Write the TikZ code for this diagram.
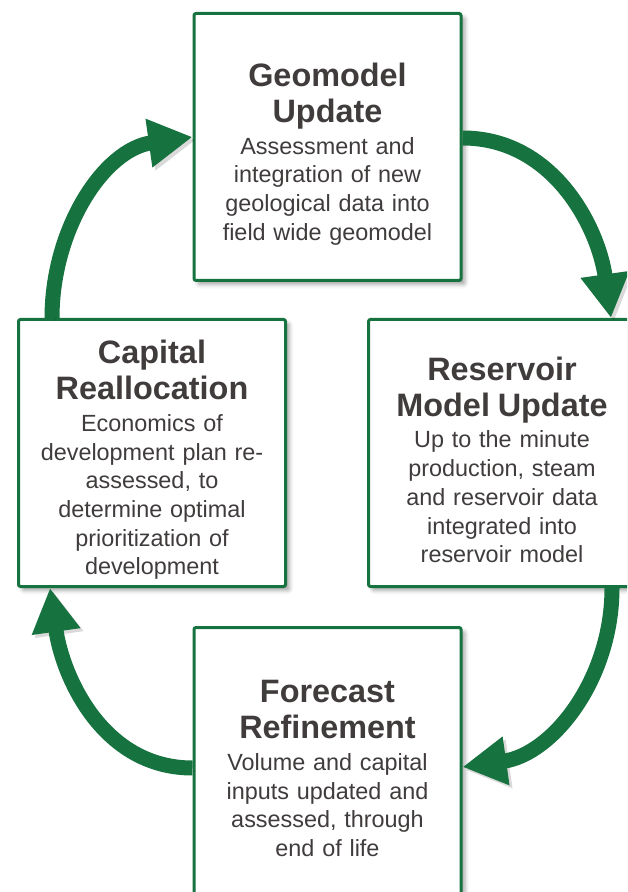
\documentclass[tikz,border=0pt]{standalone}
\usepackage{fontspec}
\setmainfont{Liberation Sans}
\usetikzlibrary{arrows.meta,calc,shadows.blur}
\definecolor{cyclegreen}{RGB}{22,114,62}
\definecolor{textgray}{RGB}{64,60,60}
\newcommand{\stagetitle}[1]{\par\vspace*{0.75pt}{\fontsize{16.2}{18}\selectfont\bfseries #1\par}\vspace{1.4pt}}
\tikzset{
  stage/.style={draw=cyclegreen,line width=1.5pt,fill=white,rounded corners=1pt,
    minimum width=133.5pt,minimum height=133.5pt,inner sep=0pt,
    text width=130pt,align=center,text=textgray,font=\fontsize{11.7}{14.35}\selectfont,
    blur shadow={shadow xshift=2pt,shadow yshift=-2pt,shadow blur radius=2pt,shadow opacity=35}},
  cycle arrow/.style={line width=7.5pt,draw=cyclegreen,-{Triangle[length=22pt,width=23pt]},
    preaction={draw=black,opacity=0.15,transform canvas={shift={(1.5pt,-1.5pt)}}}}
}
\begin{document}
\begin{tikzpicture}[x=0.5pt,y=0.5pt]
    \useasboundingbox (0,0) rectangle (627,-892);
    \clip (0,0) rectangle (627,-892);
    % the four stages of the cycle
    \node[stage] (geo) at (327.5,-147) {\stagetitle{Geomodel\\Update}Assessment and\\integration of new\\geological data into\\field wide geomodel};
    \node[stage] (res) at (502,-453) {\stagetitle{Reservoir\\Model Update}Up to the minute\\production, steam\\and reservoir data\\integrated into\\reservoir model};
    \node[stage] (cap) at (152,-453) {\stagetitle{Capital\\Reallocation}Economics of\\development plan re-\\assessed, to\\determine optimal\\prioritization of\\development};
    \node[stage] (fore) at (327.5,-761) {\stagetitle{Forecast\\Refinement}Volume and capital\\inputs updated and\\assessed, through\\end of life};

    % arrows round the cycle, clockwise
    \draw[cycle arrow] ($(geo.east)+(0,9)$) to[out=0,in=98] ($(res.north)+(109,0)$);
    \draw[cycle arrow] ($(res.south)+(110,0)$) to[out=-90,in=8] ($(fore.east)+(0,-6)$);
    \draw[cycle arrow] ($(fore.west)+(0,-7)$) to[out=180,in=-82] ($(cap.south)+(-102,0)$);
    \draw[cycle arrow] ($(cap.north)+(-100,0)$) to[out=90,in=188] ($(geo.west)+(0,10)$);
\end{tikzpicture}
\end{document}
